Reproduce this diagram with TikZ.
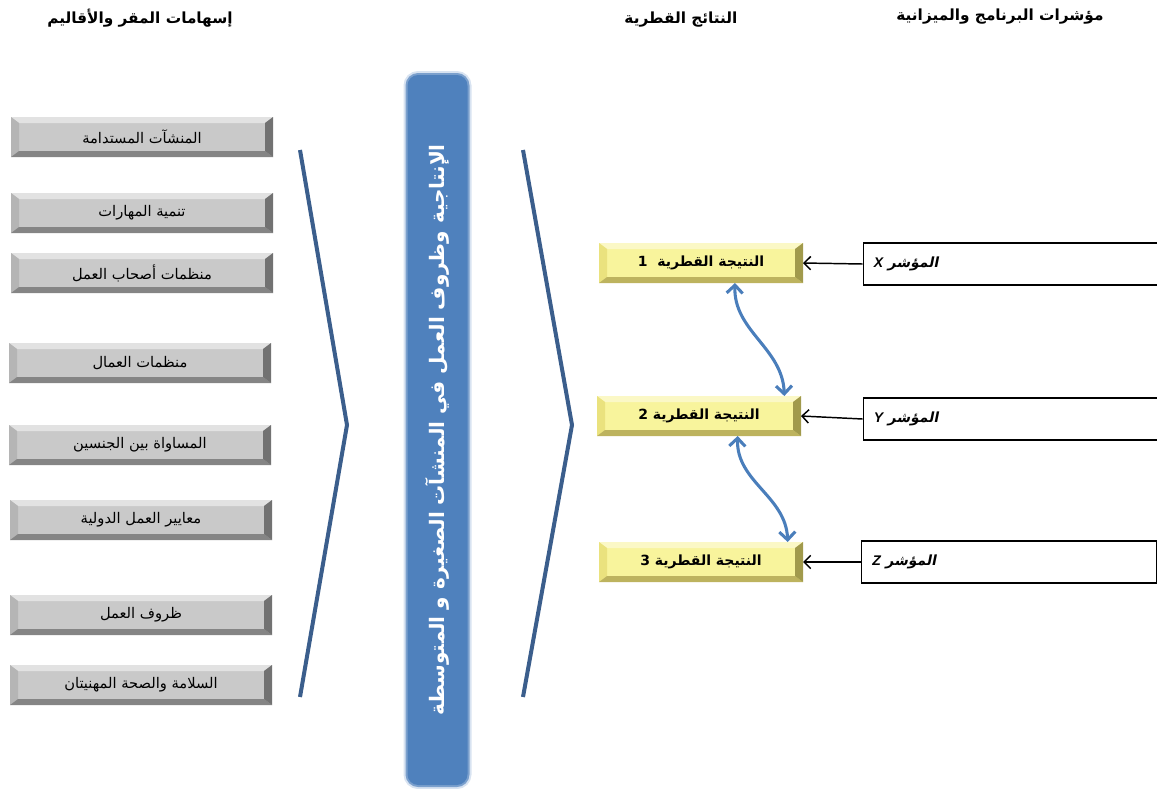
\documentclass[tikz,border=0pt]{standalone}
\usepackage{fontspec}
\setmainfont{Liberation Sans}
\newfontfamily\arabicfont[Script=Arabic]{DejaVu Sans}
\newfontfamily\arabicslant[Script=Arabic,FakeSlant=0.2]{DejaVu Sans}
\usetikzlibrary{arrows.meta}
\TeXXeTstate=1
\newcommand\artext[1]{{\arabicfont\beginR #1\endR}}
\newcommand\arslant[1]{{\arabicslant\beginR #1\endR}}
\definecolor{chevblue}{HTML}{3B5E8C}
\definecolor{barblue}{HTML}{4F81BD}
\definecolor{barglow}{HTML}{A9C1E0}
\definecolor{linkblue}{HTML}{4A7EBB}
\definecolor{grayface}{HTML}{C9C9C9}
\definecolor{graytop}{HTML}{E2E2E2}
\definecolor{grayleft}{HTML}{B5B5B5}
\definecolor{graybot}{HTML}{858585}
\definecolor{grayright}{HTML}{727272}
\definecolor{yelface}{HTML}{F8F49C}
\definecolor{yeltop}{HTML}{FBF8C6}
\definecolor{yelleft}{HTML}{EAE27E}
\definecolor{yelbot}{HTML}{BDB35E}
\definecolor{yelright}{HTML}{A19A4C}
\tikzset{bevel/.style n args={4}{path picture={
  \fill[#1] (path picture bounding box.north west) -- (path picture bounding box.north east)
    -- ([xshift=-6pt,yshift=-4.5pt]path picture bounding box.north east)
    -- ([xshift=6pt,yshift=-4.5pt]path picture bounding box.north west) -- cycle;
  \fill[#2] (path picture bounding box.north west) -- ([xshift=6pt,yshift=-4.5pt]path picture bounding box.north west)
    -- ([xshift=6pt,yshift=4.5pt]path picture bounding box.south west) -- (path picture bounding box.south west) -- cycle;
  \fill[#3] (path picture bounding box.south west) -- ([xshift=6pt,yshift=4.5pt]path picture bounding box.south west)
    -- ([xshift=-6pt,yshift=4.5pt]path picture bounding box.south east) -- (path picture bounding box.south east) -- cycle;
  \fill[#4] (path picture bounding box.south east) -- ([xshift=-6pt,yshift=4.5pt]path picture bounding box.south east)
    -- ([xshift=-6pt,yshift=-4.5pt]path picture bounding box.north east) -- (path picture bounding box.north east) -- cycle;
}}}
\begin{document}
\begin{tikzpicture}[x=0.75pt, y=-0.75pt,
  head/.style={font=\fontsize{11.5}{14}\selectfont\bfseries},
  gray node/.style={minimum width=196.5pt, minimum height=30pt, inner sep=0pt, outer sep=0pt,
    fill=grayface, bevel={graytop}{grayleft}{graybot}{grayright}, font=\fontsize{11}{13}\selectfont},
  result node/.style={minimum width=153pt, minimum height=30pt, inner sep=0pt, outer sep=0pt,
    fill=yelface, bevel={yeltop}{yelleft}{yelbot}{yelright}, font=\fontsize{10.5}{12}\selectfont\bfseries},
  ind node/.style={draw, line width=0.8pt, minimum width=221pt, minimum height=31.5pt, text width=205pt,
    align=left, inner xsep=7pt, font=\fontsize{10.5}{12}\selectfont\bfseries},
  bar node/.style={fill=barblue, rounded corners=8pt,
    preaction={draw=barglow, line width=6pt, opacity=.45},
    preaction={draw=barblue!75!white, line width=3pt},
    minimum width=532.5pt, minimum height=45pt, text=white, font=\fontsize{15}{18}\selectfont\bfseries},
  chevron/.style={draw=chevblue, line width=3pt, line join=miter},
  ind arrow/.style={draw, line width=1.1pt, -{Straight Barb[length=5pt,width=10pt]}},
  link/.style={draw=linkblue, line width=2.3pt, {Straight Barb[length=6pt,width=12pt]}-{Straight Barb[length=6pt,width=12pt]}}]
\useasboundingbox (0,0) rectangle (1157,789);
% column titles
\node[head] (h1) at (140,18) {\artext{إسهامات المقر والأقاليم}};
\node[head] (h2) at (681,20) {\artext{النتائج القطرية}};
\node[head] (h3) at (1000,17) {\artext{مؤشرات البرنامج والميزانية}};
% contributions
\node[gray node] (c1) at (142,137) {\artext{المنشآت المستدامة}};
\node[gray node] (c2) at (142,213) {\artext{تنمية المهارات}};
\node[gray node] (c3) at (142,273) {\artext{منظمات أصحاب العمل}};
\node[gray node] (c4) at (140,363) {\artext{منظمات العمال}};
\node[gray node] (c5) at (140,445) {\artext{المساواة بين الجنسين}};
\node[gray node] (c6) at (141,520) {\artext{معايير العمل الدولية}};
\node[gray node] (c7) at (141,615) {\artext{ظروف العمل}};
\node[gray node] (c8) at (141,685) {\artext{السلامة والصحة المهنيتان}};
% outcome bar
\node[bar node, rotate=90] (bar) at (437.5,430) {\artext{الإنتاجية وظروف العمل في المنشآت الصغيرة و المتوسطة}};
\draw[chevron] (300,150) -- (347,425) -- (300,697);
\draw[chevron] (523,150) -- (572,425) -- (523,697);
% country results
\node[result node] (r1) at (701,263) {\artext{النتيجة القطرية~~1}};
\node[result node] (r2) at (699,416) {\artext{النتيجة القطرية 2}};
\node[result node] (r3) at (701,562) {\artext{النتيجة القطرية 3}};
% indicators
\node[ind node] (i1) at (1010.5,264) {\arslant{المؤشر {\rmfamily\itshape X}}};
\node[ind node] (i2) at (1010.5,419) {\arslant{المؤشر {\rmfamily\itshape Y}}};
\node[ind node] (i3) at (1009,562) {\arslant{المؤشر {\rmfamily\itshape Z}}};
\path (i1.west) edge[ind arrow] (r1.east)
      (i2.west) edge[ind arrow] (r2.east)
      (i3.west) edge[ind arrow] (r3.east);
\draw[link] ([xshift=25.5pt]r1.south) to[out=-92,in=92] ([xshift=64pt]r2.north);
\draw[link] ([xshift=29pt]r2.south) to[out=-92,in=92] ([xshift=65pt]r3.north);
\end{tikzpicture}
\end{document}
